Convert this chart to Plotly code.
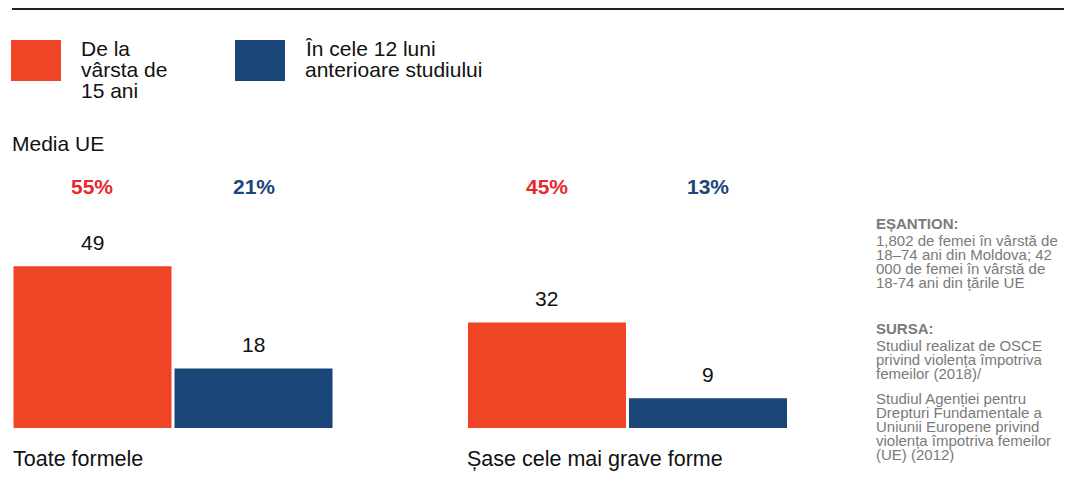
import plotly.graph_objects as go

# ---------------- data ----------------
categories = ["Toate formele", "Șase cele mai grave forme"]
series_names = ["De la vârsta de 15 ani", "În cele 12 luni anterioare studiului"]
moldova_15 = [49, 32]
moldova_12 = [18, 9]
eu_15 = ["55%", "45%"]
eu_12 = ["21%", "13%"]
legend_lines_15 = ["De la", "vârsta de", "15 ani"]
legend_lines_12 = ["În cele 12 luni", "anterioare studiului"]
sample_title = "EȘANTION:"
sample_lines = ["1,802 de femei în vârstă de", "18–74 ani din Moldova; 42",
                "000 de femei în vârstă de", "18-74 ani din țările UE"]
source_title = "SURSA:"
source_lines_a = ["Studiul realizat de OSCE", "privind violența împotriva", "femeilor (2018)/"]
source_lines_b = ["Studiul Agenției pentru", "Drepturi Fundamentale a", "Uniunii Europene privind",
                  "violența împotriva femeilor", "(UE) (2012)"]

# ---------------- style ----------------
OFF = 8                      # page body margin
W, H = 1072 - OFF, 493 - OFF
RED = "#EF4426"
BLUE = "#1B4679"
PCT_RED = "#E8282D"
GREY = "#7A7A7A"
FONT = "Liberation Sans, Arial, sans-serif"


def py(px):
    return 1 - (px - OFF) / H


def pxx(px):
    return (px - OFF) / W


fig = go.Figure()
fig.add_trace(go.Bar(x=categories, y=moldova_15, name=series_names[0], marker_color=RED,
                     marker_line_width=0, hoverinfo="skip"))
fig.add_trace(go.Bar(x=categories, y=moldova_12, name=series_names[1], marker_color=BLUE,
                     marker_line_width=0, hoverinfo="skip"))

unit = 454.5          # px per category
bargap = 0.2915
slot = unit * (1 - bargap) / 2
annotations = []

# value labels above bars
for vals, sh in ((moldova_15, -slot / 2), (moldova_12, slot / 2)):
    for c, v in zip(categories, vals):
        annotations.append(dict(x=c, y=v, xref="x", yref="y", text=str(v), showarrow=False,
                                xshift=sh, yshift=24, yanchor="middle",
                                font=dict(size=21, color="#111", family=FONT)))

# EU averages
for vals, sh, col in ((eu_15, -slot / 2, PCT_RED), (eu_12, slot / 2, BLUE)):
    for c, v in zip(categories, vals):
        annotations.append(dict(x=c, y=py(186), xref="x", yref="paper", text=f"<b>{v}</b>",
                                showarrow=False, xshift=sh, yanchor="middle",
                                font=dict(size=21, color=col, family=FONT)))

# category labels
for c in categories:
    annotations.append(dict(x=c, y=py(459), xref="x", yref="paper", text=c, showarrow=False,
                            xshift=-slot - 1, xanchor="left", yanchor="middle",
                            font=dict(size=21.5, color="#111", family=FONT)))

# Media UE
annotations.append(dict(x=pxx(10), y=py(143), xref="paper", yref="paper", text="Media UE",
                        showarrow=False, xanchor="left", yanchor="middle",
                        font=dict(size=21, color="#111", family=FONT)))

# legend texts
for i, t in enumerate(legend_lines_15):
    annotations.append(dict(x=pxx(79), y=py(48 + 21 * i), xref="paper", yref="paper", text=t,
                            showarrow=False, xanchor="left", yanchor="middle",
                            font=dict(size=21, color="#111", family=FONT)))
for i, t in enumerate(legend_lines_12):
    annotations.append(dict(x=pxx(303), y=py(48 + 21 * i), xref="paper", yref="paper", text=t,
                            showarrow=False, xanchor="left", yanchor="middle",
                            font=dict(size=21, color="#111", family=FONT)))


# side notes
def side(text, ypx, bold=False):
    annotations.append(dict(x=pxx(874), y=py(ypx), xref="paper", yref="paper",
                            text=f"<b>{text}</b>" if bold else text, showarrow=False,
                            xanchor="left", yanchor="middle",
                            font=dict(size=15, color=GREY, family=FONT)))


side(sample_title, 223, True)
for i, t in enumerate(sample_lines):
    side(t, 240 + 14 * i)
side(source_title, 328, True)
for i, t in enumerate(source_lines_a):
    side(t, 345 + 14 * i)
for i, t in enumerate(source_lines_b):
    side(t, 398 + 14 * i)

shapes = [
    dict(type="line", xref="paper", yref="paper", x0=pxx(12), x1=pxx(1070), y0=py(9), y1=py(9),
         line=dict(color="#222", width=2)),
    dict(type="rect", xref="paper", yref="paper", x0=pxx(11), x1=pxx(61), y0=py(81), y1=py(40),
         fillcolor=RED, line_width=0),
    dict(type="rect", xref="paper", yref="paper", x0=pxx(235), x1=pxx(285), y0=py(81), y1=py(40),
         fillcolor=BLUE, line_width=0),
]

# category axis placement: group centres at page px 173 and 627.5
c0 = 173 - OFF
x0_cat = -c0 / unit
x1_cat = (W - c0) / unit
ppu = 3.3
base = 428 - OFF
fig.update_layout(
    width=W, height=H, autosize=False,
    margin=dict(l=0, r=0, t=0, b=0, pad=0),
    paper_bgcolor="white", plot_bgcolor="white",
    barmode="group", bargap=bargap, bargroupgap=0.0186,
    showlegend=False,
    xaxis=dict(type="category", range=[x0_cat, x1_cat], visible=False, fixedrange=True),
    yaxis=dict(range=[-(H - base) / ppu, base / ppu], visible=False, fixedrange=True),
    annotations=annotations, shapes=shapes,
    font=dict(family=FONT),
)

fig.write_html("out.html", config={"displayModeBar": False})
